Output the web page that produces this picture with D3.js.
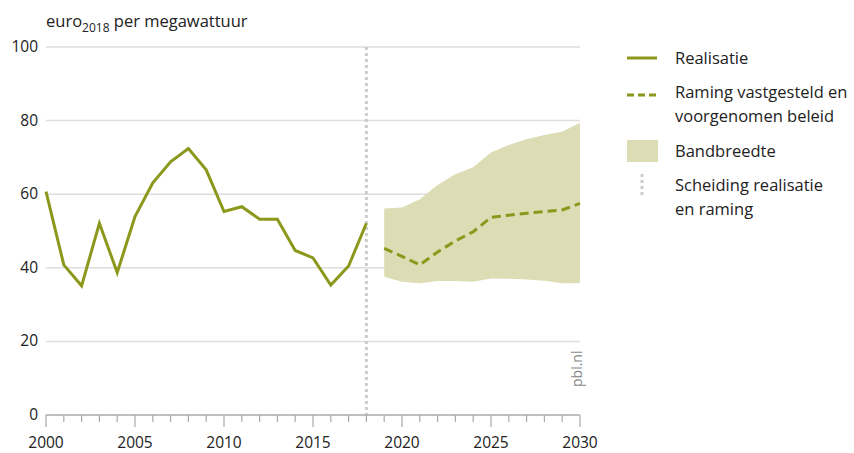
<!DOCTYPE html>
<html>
<head>
<meta charset="utf-8">
<script src="https://cdn.jsdelivr.net/npm/d3@7"></script>
<style>
  body { margin: 0; background: #fff; }
  svg { font-family: "Open Sans", sans-serif; }
</style>
</head>
<body>
<div id="chart"></div>
<script>
// realisatie 2000-2018
var realYears = d3.range(2000, 2019);
var realValues = [60.7, 40.8, 35.1, 52.1, 38.7, 53.9, 63.1, 68.8, 72.4, 66.6, 55.3, 56.6, 53.2, 53.2, 44.7, 42.7, 35.3, 40.5, 52.1];

// raming 2019-2030
var projYears = d3.range(2019, 2031);
var projValues = [45.3, 43.1, 40.8, 44.3, 47.3, 49.8, 53.7, 54.3, 54.8, 55.3, 55.7, 57.5];
var bandHigh = [56.1, 56.4, 58.6, 62.5, 65.4, 67.3, 71.3, 73.4, 74.9, 76.1, 77.0, 79.4];
var bandLow = [37.6, 36.2, 35.8, 36.4, 36.4, 36.2, 37.1, 37.0, 36.8, 36.5, 35.8, 35.9];

var yTicks = [0, 20, 40, 60, 80, 100];
var xLabels = [2000, 2005, 2010, 2015, 2020, 2025, 2030];
var splitYear = 2018;

var legendItems = [
  { type: "solid", lines: ["Realisatie"] },
  { type: "dash", lines: ["Raming vastgesteld en", "voorgenomen beleid"] },
  { type: "band", lines: ["Bandbreedte"] },
  { type: "dot", lines: ["Scheiding realisatie", "en raming"] }
];

var width = 854, height = 453;
var olive = "#8b981c", bandColor = "#dcdcb5", gridColor = "#dddddd", axisColor = "#aaaaaa";

var svg = d3.select("#chart").append("svg")
  .attr("width", width).attr("height", height);

var x = d3.scaleLinear().domain([2000, 2030]).range([46, 580]);
var y = d3.scaleLinear().domain([0, 100]).range([415, 47]);

// gridlines
svg.append("g").selectAll("line")
  .data(yTicks.filter(d => d > 0))
  .join("line")
  .attr("x1", x(2000)).attr("x2", x(2030))
  .attr("y1", d => y(d)).attr("y2", d => y(d))
  .attr("stroke", gridColor).attr("stroke-width", 1.5);

// y labels
svg.append("g").selectAll("text")
  .data(yTicks)
  .join("text")
  .attr("x", 38).attr("y", d => y(d) + 5)
  .attr("text-anchor", "end")
  .attr("font-size", 15.5).attr("fill", "#222")
  .text(d => d);

// y title
var title = svg.append("text").attr("x", 46).attr("y", 27).attr("font-size", 16.5).attr("fill", "#222");
title.append("tspan").text("euro");
title.append("tspan").attr("dy", 5).attr("font-size", 12).text("2018");
title.append("tspan").attr("dy", -5).text(" per megawattuur");

// band
var band = projYears.map((yr, i) => ({ yr: yr, lo: bandLow[i], hi: bandHigh[i] }));
svg.append("path")
  .datum(band)
  .attr("fill", bandColor)
  .attr("d", d3.area().x(d => x(d.yr)).y0(d => y(d.lo)).y1(d => y(d.hi)));

// divider
svg.append("line")
  .attr("x1", x(splitYear)).attr("x2", x(splitYear))
  .attr("y1", y(100)).attr("y2", y(0))
  .attr("stroke", "#cccccc").attr("stroke-width", 3)
  .attr("stroke-dasharray", "3,3");

// x axis
var xAxis = svg.append("g").attr("transform", "translate(0," + y(0) + ")");
xAxis.append("line").attr("x1", x(2000)).attr("x2", x(2030))
  .attr("stroke", axisColor).attr("stroke-width", 1.5);
xAxis.selectAll("line.tick")
  .data(d3.range(2000, 2031))
  .join("line").attr("class", "tick")
  .attr("x1", d => x(d)).attr("x2", d => x(d))
  .attr("y1", 0).attr("y2", d => d % 5 === 0 ? 12 : 7)
  .attr("stroke", axisColor).attr("stroke-width", 1.2);
xAxis.selectAll("text")
  .data(xLabels)
  .join("text")
  .attr("x", d => x(d)).attr("y", 33)
  .attr("text-anchor", "middle")
  .attr("font-size", 15.5).attr("fill", "#222")
  .text(d => d);

// lines
var line = d3.line().x(d => x(d[0])).y(d => y(d[1]));
svg.append("path")
  .datum(realYears.map((yr, i) => [yr, realValues[i]]))
  .attr("fill", "none").attr("stroke", olive).attr("stroke-width", 3)
  .attr("stroke-linejoin", "miter")
  .attr("d", line);
svg.append("path")
  .datum(projYears.map((yr, i) => [yr, projValues[i]]))
  .attr("fill", "none").attr("stroke", olive).attr("stroke-width", 3)
  .attr("stroke-dasharray", "9,5")
  .attr("d", line);

// source
svg.append("text")
  .attr("transform", "translate(582,387) rotate(-90)")
  .attr("font-size", 14).attr("fill", "#888")
  .text("pbl.nl");

// legend
var legendY = [58, 92, 151, 185];
var lg = svg.append("g");
legendItems.forEach((item, i) => {
  var ly = legendY[i];
  if (item.type === "solid" || item.type === "dash") {
    lg.append("line").attr("x1", 627).attr("x2", 657)
      .attr("y1", ly + (item.type === "dash" ? 3 : 0)).attr("y2", ly + (item.type === "dash" ? 3 : 0))
      .attr("stroke", olive).attr("stroke-width", 3)
      .attr("stroke-dasharray", item.type === "dash" ? "7,4" : null);
  } else if (item.type === "band") {
    lg.append("rect").attr("x", 627).attr("y", ly - 11).attr("width", 31).attr("height", 22)
      .attr("fill", bandColor);
  } else {
    lg.append("line").attr("x1", 642).attr("x2", 642)
      .attr("y1", ly - 11).attr("y2", ly + 13)
      .attr("stroke", "#cccccc").attr("stroke-width", 3)
      .attr("stroke-dasharray", "3,3");
  }
  item.lines.forEach((t, j) => {
    lg.append("text").attr("x", 675).attr("y", ly + 6 + j * 24)
      .attr("font-size", 16.5).attr("fill", "#222").text(t);
  });
});
</script>
</body>
</html>
